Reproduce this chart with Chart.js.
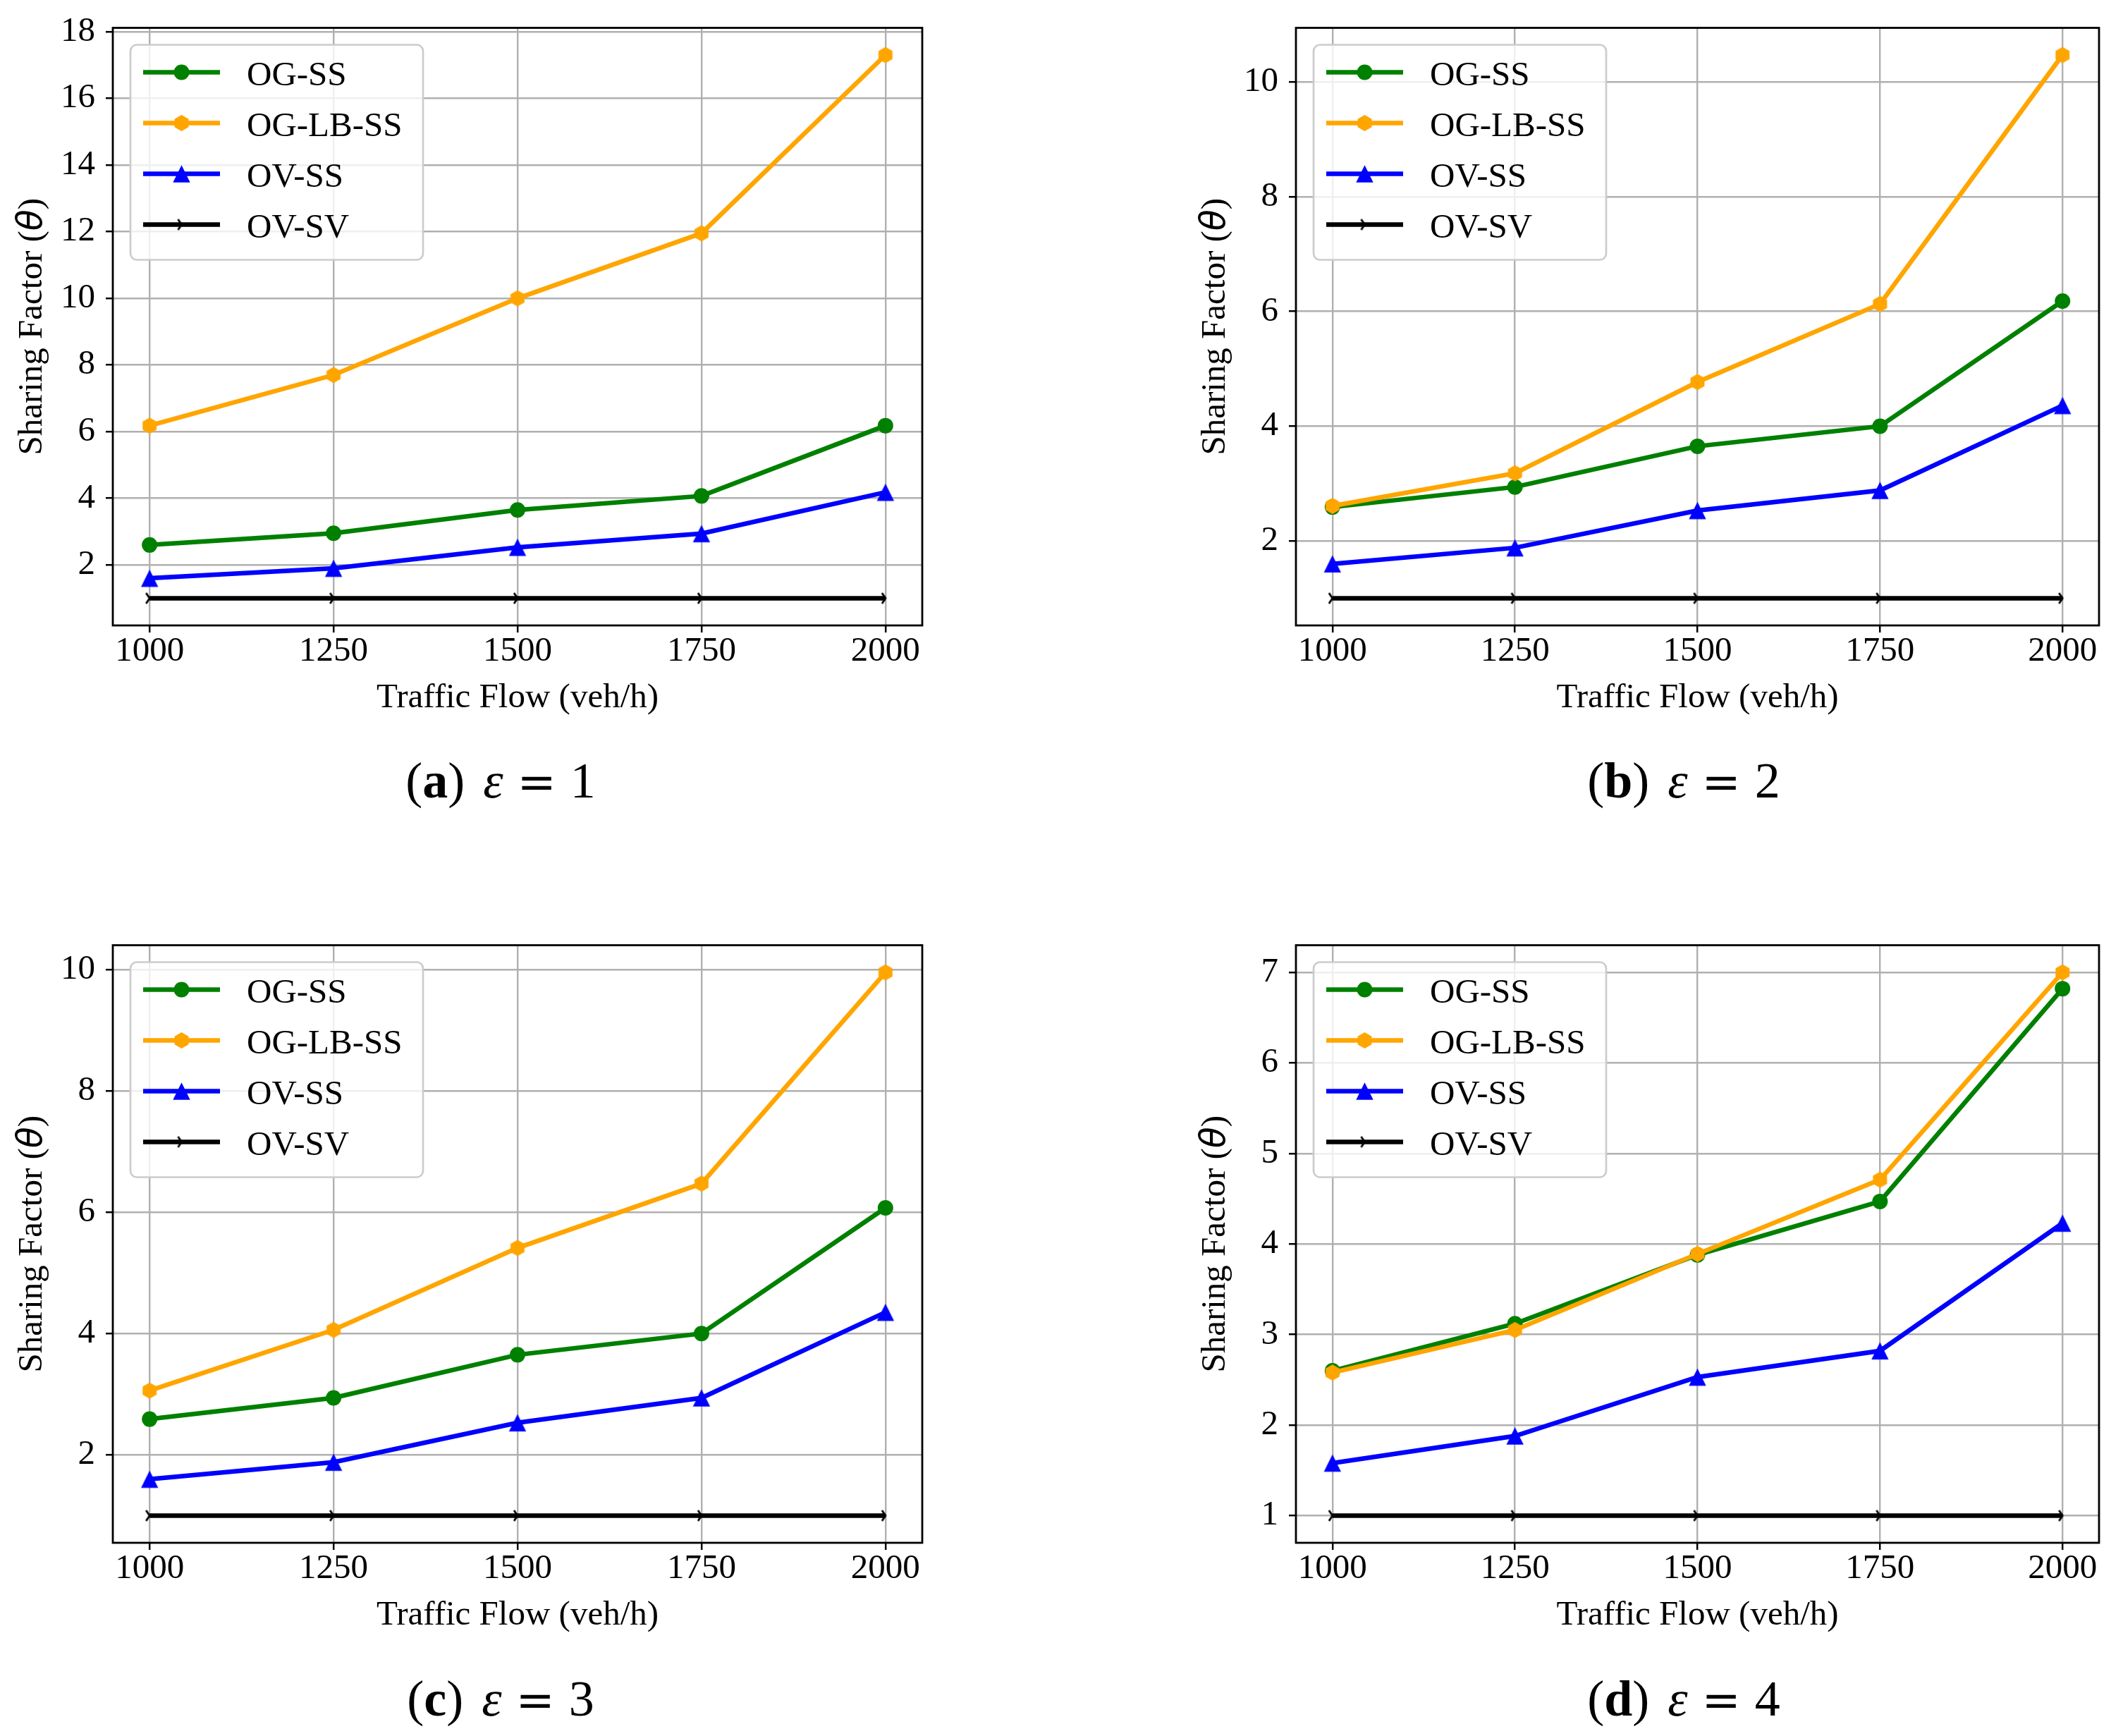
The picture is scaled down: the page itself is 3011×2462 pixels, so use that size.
<!DOCTYPE html>
<html>
<head>
<meta charset="utf-8">
<script src="https://cdn.jsdelivr.net/npm/chart.js@4.4.1/dist/chart.umd.min.js"></script>
<style>
    html, body {
        margin: 0;
        padding: 0;
        background: #ffffff;
    }

    body {
        position: relative;
        width: 3011px;
        height: 2462px;
        overflow: hidden;
    }

    canvas {
        position: absolute;
    }

    .caption {
        position: absolute;
        width: 800px;
        text-align: center;
        font-family: "Liberation Serif", serif;
        font-size: 72px;
        line-height: 80px;
        color: #000000;
        white-space: nowrap;
    }

    .caption i {
        margin-left: 26px;
    }

    .caption .eq {
        font-family: "DejaVu Serif", serif;
        font-size: 66px;
        margin-left: 20px;
    }

    .caption .num {
        margin-left: 20px;
    }
</style>
</head>
<body>

<canvas id="chart_e1" width="1328" height="1027" style="left:0px; top:0px;"></canvas>
<canvas id="chart_e2" width="1319" height="1027" style="left:1678px; top:0px;"></canvas>
<canvas id="chart_e3" width="1328" height="1027" style="left:0px; top:1301px;"></canvas>
<canvas id="chart_e4" width="1319" height="1027" style="left:1678px; top:1301px;"></canvas>

<div class="caption" style="left:310px; top:1067px;">(<b>a</b>)<i>ε</i><span class="eq">=</span><span class="num">1</span></div>
<div class="caption" style="left:1988px; top:1067px;">(<b>b</b>)<i>ε</i><span class="eq">=</span><span class="num">2</span></div>
<div class="caption" style="left:310px; top:2369px;">(<b>c</b>)<i>ε</i><span class="eq">=</span><span class="num">3</span></div>
<div class="caption" style="left:1988px; top:2369px;">(<b>d</b>)<i>ε</i><span class="eq">=</span><span class="num">4</span></div>

<script>
// traffic flow (veh/h)
const flow = [1000, 1250, 1500, 1750, 2000];
const flowTicks = [1000, 1250, 1500, 1750, 2000];

// epsilon = 1
const ogSsE1 = [2.6, 2.95, 3.65, 4.07, 6.18];
const ogLbSsE1 = [6.18, 7.7, 10.0, 11.95, 17.3];
const ovSsE1 = [1.6, 1.9, 2.53, 2.94, 4.18];
const ovSvE1 = [1, 1, 1, 1, 1];
const yTicksE1 = [2, 4, 6, 8, 10, 12, 14, 16, 18];

// epsilon = 2
const ogSsE2 = [2.59, 2.94, 3.65, 4.0, 6.18];
const ogLbSsE2 = [2.61, 3.18, 4.77, 6.13, 10.47];
const ovSsE2 = [1.6, 1.88, 2.53, 2.88, 4.36];
const ovSvE2 = [1, 1, 1, 1, 1];
const yTicksE2 = [2, 4, 6, 8, 10];

// epsilon = 3
const ogSsE3 = [2.59, 2.94, 3.65, 4.0, 6.07];
const ogLbSsE3 = [3.06, 4.06, 5.41, 6.47, 9.95];
const ovSsE3 = [1.6, 1.88, 2.53, 2.94, 4.35];
const ovSvE3 = [1, 1, 1, 1, 1];
const yTicksE3 = [2, 4, 6, 8, 10];

// epsilon = 4
const ogSsE4 = [2.6, 3.12, 3.88, 4.47, 6.82];
const ogLbSsE4 = [2.58, 3.05, 3.89, 4.71, 7.0];
const ovSsE4 = [1.58, 1.88, 2.53, 2.82, 4.23];
const ovSvE4 = [1, 1, 1, 1, 1];
const yTicksE4 = [1, 2, 3, 4, 5, 6, 7];

const SERIF = "'Liberation Serif', 'Times New Roman', serif";
const FONT_SIZE = 49;
const LINE_WIDTH = 6.5;

// matplotlib "h" marker
function makeHexagon(color, r) {
    const c = document.createElement("canvas");
    const s = Math.ceil(r * 2 + 4);
    c.width = s;
    c.height = s;
    const ctx = c.getContext("2d");
    ctx.fillStyle = color;
    ctx.beginPath();
    for (let i = 0; i < 6; i++) {
        const a = -Math.PI / 2 + i * Math.PI / 3;
        const px = s / 2 + r * Math.cos(a);
        const py = s / 2 + r * Math.sin(a);
        if (i === 0) ctx.moveTo(px, py); else ctx.lineTo(px, py);
    }
    ctx.closePath();
    ctx.fill();
    return c;
}

// matplotlib "^" marker: as wide as it is tall, centred on its box
function makeTriangleUp(color, half) {
    const c = document.createElement("canvas");
    const s = Math.ceil(half * 2 + 4);
    c.width = s;
    c.height = s;
    const ctx = c.getContext("2d");
    ctx.fillStyle = color;
    ctx.beginPath();
    ctx.moveTo(s / 2, s / 2 - half);
    ctx.lineTo(s / 2 + half, s / 2 + half);
    ctx.lineTo(s / 2 - half, s / 2 + half);
    ctx.closePath();
    ctx.fill();
    return c;
}

// matplotlib "4" marker (tri_right), only the two back arms show
function makeTriRight(color) {
    const c = document.createElement("canvas");
    c.width = 24;
    c.height = 24;
    const ctx = c.getContext("2d");
    ctx.strokeStyle = color;
    ctx.lineWidth = 2.8;
    ctx.beginPath();
    ctx.moveTo(7, 4.5);
    ctx.lineTo(12, 12);
    ctx.lineTo(7, 19.5);
    ctx.stroke();
    return c;
}

const hexOrange = makeHexagon("#ffa500", 11.5);
const triBlue = makeTriangleUp("#0000ff", 12.2);
const triBlack = makeTriRight("#000000");

function series(label, values, color, style, radius, order) {
    return {
        label: label,
        data: flow.map((x, i) => ({ x: x, y: values[i] })),
        borderColor: color,
        backgroundColor: color,
        borderWidth: LINE_WIDTH,
        tension: 0,
        fill: false,
        pointStyle: style,
        pointRadius: radius,
        pointHoverRadius: radius,
        pointBackgroundColor: color,
        pointBorderColor: color,
        pointBorderWidth: 0,
        order: order
    };
}

const framePlugin = {
    id: "frame",
    afterDraw(chart) {
        const ctx = chart.ctx;
        const area = chart.chartArea;

        // full box, like matplotlib spines
        ctx.save();
        ctx.strokeStyle = "#000000";
        ctx.lineWidth = 2.8;
        ctx.strokeRect(area.left, area.top, area.right - area.left, area.bottom - area.top);
        ctx.restore();

        // y axis title with italic theta
        ctx.save();
        ctx.translate(area.left - 114, (area.top + area.bottom) / 2);
        ctx.rotate(-Math.PI / 2);
        ctx.fillStyle = "#000000";
        ctx.textBaseline = "middle";
        ctx.textAlign = "left";
        const partA = "Sharing Factor (";
        const partB = "\u03b8";
        const partC = ")";
        const fontA = FONT_SIZE + "px " + SERIF;
        const fontB = "italic " + FONT_SIZE + "px 'DejaVu Sans', sans-serif";
        ctx.font = fontA;
        const wA = ctx.measureText(partA).width;
        const wC = ctx.measureText(partC).width;
        ctx.font = fontB;
        const wB = ctx.measureText(partB).width;
        let x = -(wA + wB + wC) / 2;
        ctx.font = fontA;
        ctx.fillText(partA, x, 0);
        x += wA;
        ctx.font = fontB;
        ctx.fillText(partB, x, 0);
        x += wB;
        ctx.font = fontA;
        ctx.fillText(partC, x, 0);
        ctx.restore();

        // legend in the upper left corner
        const boxX = area.left + 25;
        const boxY = area.top + 24;
        const boxW = 415;
        const boxH = 305;
        ctx.save();
        ctx.beginPath();
        ctx.roundRect(boxX, boxY, boxW, boxH, 9);
        ctx.fillStyle = "rgba(255, 255, 255, 0.8)";
        ctx.fill();
        ctx.strokeStyle = "#cccccc";
        ctx.lineWidth = 2.7;
        ctx.stroke();

        chart.data.datasets.forEach((ds, i) => {
            const rowY = boxY + 39 + i * 72;
            ctx.strokeStyle = ds.borderColor;
            ctx.lineWidth = ds.borderWidth;
            ctx.beginPath();
            ctx.moveTo(boxX + 18, rowY);
            ctx.lineTo(boxX + 127, rowY);
            ctx.stroke();

            ctx.fillStyle = ds.pointBackgroundColor;
            Chart.helpers.drawPoint(ctx, {
                pointStyle: ds.pointStyle,
                rotation: 0,
                radius: ds.pointRadius,
                borderWidth: 0
            }, boxX + 72.5, rowY);

            ctx.fillStyle = "#000000";
            ctx.font = FONT_SIZE + "px " + SERIF;
            ctx.textAlign = "left";
            ctx.textBaseline = "alphabetic";
            ctx.fillText(ds.label, boxX + 165, rowY + 18);
        });
        ctx.restore();
    }
};

function createPanel(canvasId, ogSs, ogLbSs, ovSs, ovSv, yTicks) {
    const canvas = document.getElementById(canvasId);

    const all = [].concat(ogSs, ogLbSs, ovSs, ovSv);
    const lo = Math.min(...all);
    const hi = Math.max(...all);
    const margin = (hi - lo) * 0.05;

    new Chart(canvas, {
        type: "line",

        data: {
            datasets: [
                series("OG-SS", ogSs, "#008000", "circle", 11, 3),
                series("OG-LB-SS", ogLbSs, "#ffa500", hexOrange, 11.5, 2),
                series("OV-SS", ovSs, "#0000ff", triBlue, 12, 1),
                series("OV-SV", ovSv, "#000000", triBlack, 6, 0)
            ]
        },

        options: {
            responsive: false,
            animation: false,
            devicePixelRatio: 1,

            layout: {
                padding: {
                    top: 33,
                    right: 20,
                    left: 0,
                    bottom: 0
                }
            },

            scales: {
                x: {
                    type: "linear",
                    min: 950,
                    max: 2050,

                    afterBuildTicks: function (scale) {
                        scale.ticks = flowTicks.map(v => ({ value: v }));
                    },

                    afterFit: function (scale) {
                        scale.height = 140;
                    },

                    title: {
                        display: true,
                        text: "Traffic Flow (veh/h)",
                        color: "#000000",
                        padding: { top: 0, bottom: 12 },
                        font: {
                            family: SERIF,
                            size: FONT_SIZE,
                            lineHeight: 1
                        }
                    },

                    grid: {
                        color: "#b0b0b0",
                        lineWidth: 2.4,
                        drawTicks: true,
                        tickLength: 10,
                        tickColor: "#000000",
                        tickWidth: 2.5
                    },

                    ticks: {
                        color: "#000000",
                        padding: 3,
                        maxRotation: 0,
                        autoSkip: false,
                        font: {
                            family: SERIF,
                            size: FONT_SIZE,
                            lineHeight: 1
                        },
                        callback: function (value) {
                            return String(value);
                        }
                    },

                    border: {
                        display: false
                    }
                },

                y: {
                    type: "linear",
                    min: lo - margin,
                    max: hi + margin,

                    afterBuildTicks: function (scale) {
                        scale.ticks = yTicks.map(v => ({ value: v }));
                    },

                    afterFit: function (scale) {
                        scale.width = 160;
                    },

                    grid: {
                        color: "#b0b0b0",
                        lineWidth: 2.4,
                        drawTicks: true,
                        tickLength: 10,
                        tickColor: "#000000",
                        tickWidth: 2.5
                    },

                    ticks: {
                        color: "#000000",
                        padding: 15,
                        autoSkip: false,
                        font: {
                            family: SERIF,
                            size: FONT_SIZE,
                            lineHeight: 1
                        },
                        callback: function (value) {
                            return String(value);
                        }
                    },

                    border: {
                        display: false
                    }
                }
            },

            plugins: {
                legend: {
                    display: false
                },

                tooltip: {
                    enabled: false
                }
            }
        },

        plugins: [framePlugin]
    });
}

createPanel("chart_e1", ogSsE1, ogLbSsE1, ovSsE1, ovSvE1, yTicksE1);
createPanel("chart_e2", ogSsE2, ogLbSsE2, ovSsE2, ovSvE2, yTicksE2);
createPanel("chart_e3", ogSsE3, ogLbSsE3, ovSsE3, ovSvE3, yTicksE3);
createPanel("chart_e4", ogSsE4, ogLbSsE4, ovSsE4, ovSvE4, yTicksE4);
</script>
</body>
</html>
